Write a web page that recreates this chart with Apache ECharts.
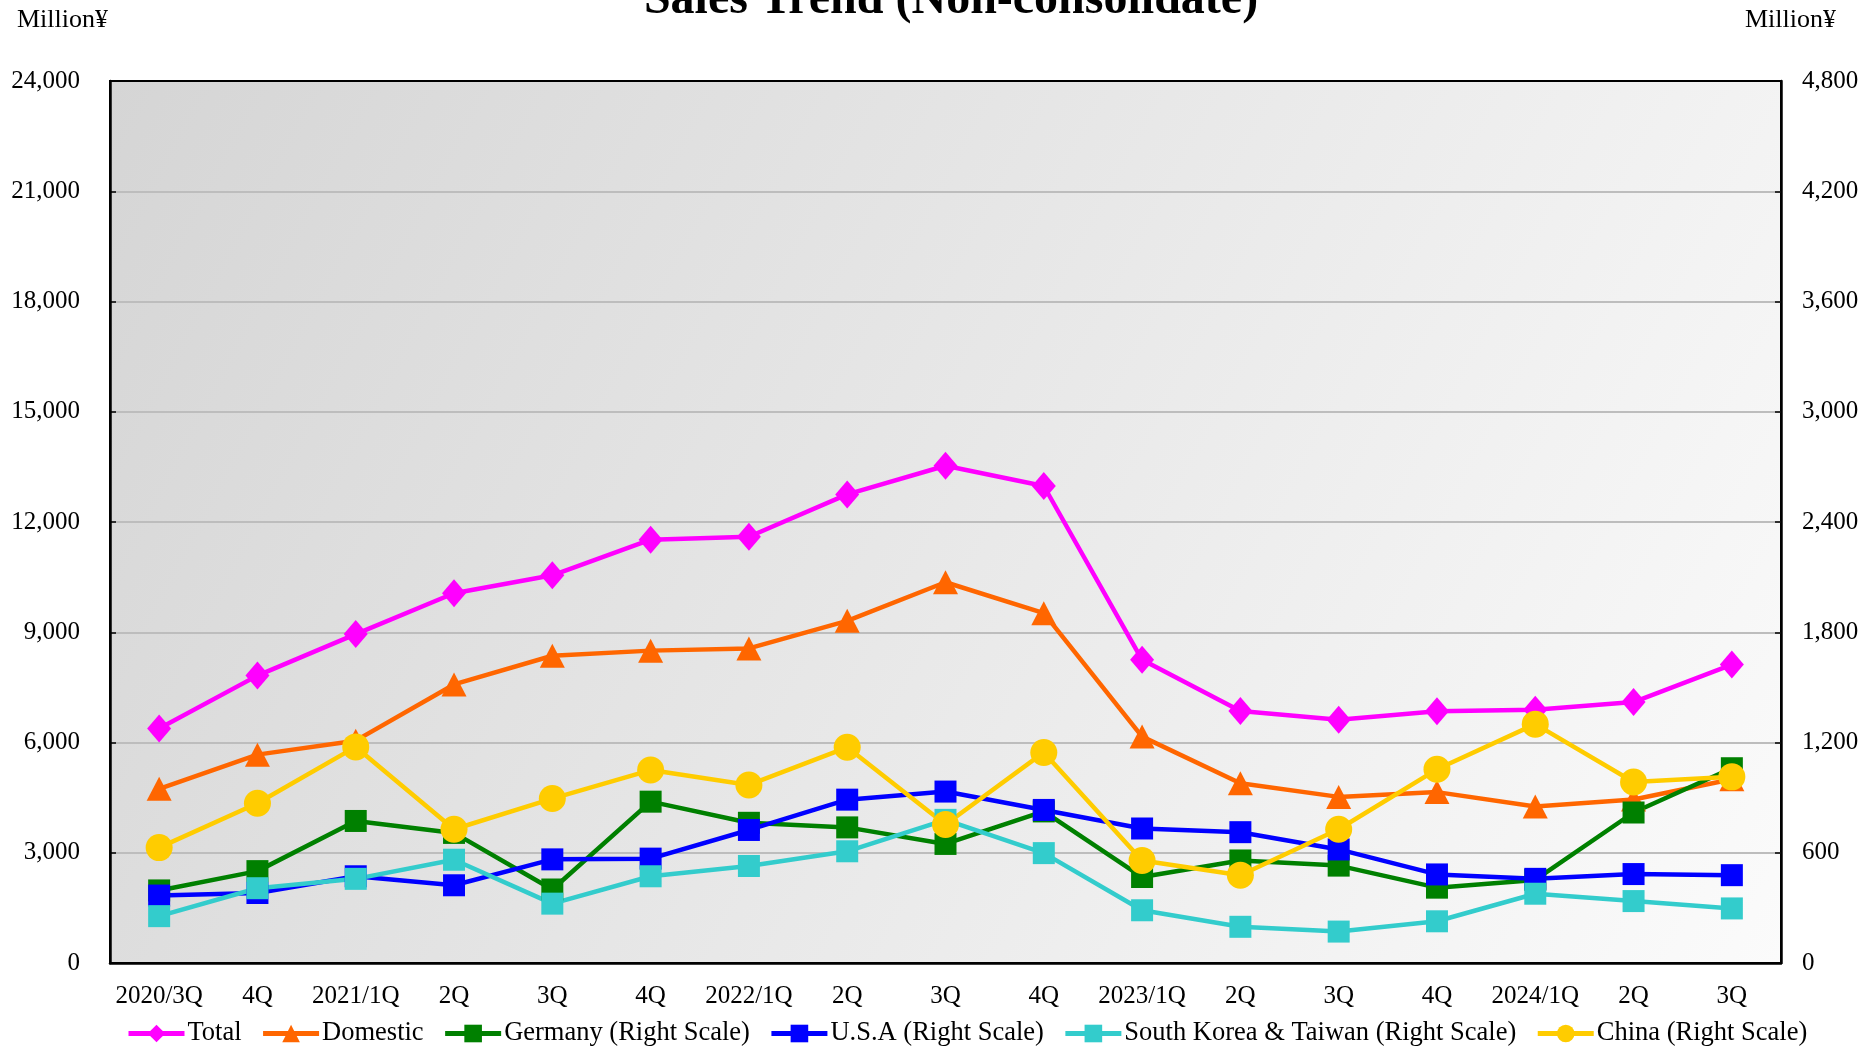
<!DOCTYPE html>
<html>
<head>
<meta charset="utf-8">
<script src="https://cdn.jsdelivr.net/npm/echarts@6/dist/echarts.min.js"></script>
<style>
html,body{margin:0;padding:0;background:#fff;}
#chart{width:1874px;height:1053px;}
</style>
</head>
<body>
<div id="chart"></div>
<script>
var categories = ['2020/3Q','4Q','2021/1Q','2Q','3Q','4Q','2022/1Q','2Q','3Q','4Q','2023/1Q','2Q','3Q','4Q','2024/1Q','2Q','3Q'];
var leftTicks = [0, 3000, 6000, 9000, 12000, 15000, 18000, 21000, 24000];
var rightTicks = [0, 600, 1200, 1800, 2400, 3000, 3600, 4200, 4800];

var total    = [6380, 7820, 8950, 10060, 10550, 11520, 11600, 12750, 13530, 12980, 8250, 6860, 6620, 6850, 6890, 7100, 8120];
var domestic = [4740, 5670, 6050, 7580, 8360, 8500, 8560, 9310, 10360, 9520, 6160, 4890, 4520, 4650, 4260, 4450, 5000];
var germany  = [395, 500, 773, 708, 400, 878, 763, 738, 648, 825, 468, 558, 530, 410, 452, 819, 1060];
var usa      = [367, 381, 472, 423, 564, 568, 724, 889, 933, 833, 732, 712, 618, 482, 458, 484, 478];
var korea    = [255, 407, 458, 562, 323, 472, 528, 608, 779, 598, 287, 197, 171, 227, 377, 337, 297];
var china    = [628, 869, 1176, 728, 895, 1050, 969, 1174, 754, 1146, 558, 478, 728, 1054, 1300, 985, 1013];

var seriesNames = ['Total','Domestic','Germany (Right Scale)','U.S.A (Right Scale)','South Korea & Taiwan (Right Scale)','China (Right Scale)'];

var FONT = '"Liberation Serif", "Times New Roman", serif';

function fmt(v){ return v.toString().replace(/\B(?=(\d{3})+(?!\d))/g, ','); }

function mk(name, data, color, symbol, size, yIdx){
  return {
    name: name, type: 'line', data: data, yAxisIndex: yIdx,
    symbol: symbol, symbolSize: size, showSymbol: true,
    lineStyle: {color: color, width: 4.5},
    itemStyle: {color: color},
    emphasis: {disabled: true}
  };
}

var chart = echarts.init(document.getElementById('chart'), null, {renderer: 'canvas'});
chart.setOption({
  animation: false,
  backgroundColor: '#ffffff',
  textStyle: {fontFamily: FONT},
  title: {
    text: 'Sales Trend (Non-consolidate)',
    left: 946, textAlign: 'center', top: -28,
    textStyle: {fontFamily: FONT, fontWeight: 'bold', fontSize: 48, color: '#000'}
  },
  graphic: [
    {type: 'text', left: 17, top: 7, style: {text: 'Million¥', font: '26px ' + FONT, fill: '#000'}},
    {type: 'text', left: 1745, top: 7, style: {text: 'Million¥', font: '26px ' + FONT, fill: '#000'}}
  ],
  grid: {
    left: 110, right: 93, top: 81, bottom: 90,
    show: true, borderColor: '#000', borderWidth: 2,
    backgroundColor: new echarts.graphic.LinearGradient(0, 0, 1, 1, [
      {offset: 0, color: '#d5d5d5'},
      {offset: 1, color: '#fbfbfb'}
    ])
  },
  legend: {
    left: 126, top: 1020, padding: 0,
    itemWidth: 56, itemHeight: 22, itemGap: 19,
    lineStyle: {width: 5},
    textStyle: {fontFamily: FONT, fontSize: 26.5, color: '#000', padding: [0,0,0,-2]},
    data: seriesNames
  },
  xAxis: {
    type: 'category', data: categories, boundaryGap: true,
    axisLine: {lineStyle: {color: '#000', width: 2.5}},
    axisTick: {inside: true, length: 8, lineStyle: {color: '#000', width: 1.5}},
    axisLabel: {fontFamily: FONT, fontSize: 25, color: '#000', margin: 21, interval: 0}
  },
  yAxis: [
    {
      type: 'value', min: leftTicks[0], max: leftTicks[leftTicks.length-1], interval: 3000,
      axisLine: {show: true, lineStyle: {color: '#000', width: 2.5}},
      axisTick: {show: true, inside: true, length: 6, lineStyle: {color: '#000', width: 1.5}},
      axisLabel: {fontFamily: FONT, fontSize: 25, color: '#000', margin: 30, formatter: fmt},
      splitLine: {show: true, showMinLine: false, showMaxLine: false, lineStyle: {color: '#bdbdbd', width: 2}}
    },
    {
      type: 'value', min: rightTicks[0], max: rightTicks[rightTicks.length-1], interval: 600,
      position: 'right',
      axisLine: {show: true, lineStyle: {color: '#000', width: 2.5}},
      axisTick: {show: true, inside: true, length: 6, lineStyle: {color: '#000', width: 1.5}},
      axisLabel: {fontFamily: FONT, fontSize: 25, color: '#000', margin: 21, formatter: fmt},
      splitLine: {show: false}
    }
  ],
  series: [
    mk(seriesNames[0], total, '#ff00ff', 'diamond', [24, 28], 0),
    mk(seriesNames[1], domestic, '#ff6600', 'triangle', [25, 24], 0),
    mk(seriesNames[2], germany, '#008000', 'rect', 22, 1),
    mk(seriesNames[3], usa, '#0000ff', 'rect', 22, 1),
    mk(seriesNames[4], korea, '#33cccc', 'rect', 22, 1),
    mk(seriesNames[5], china, '#ffcc00', 'circle', 27, 1)
  ]
});
</script>
</body>
</html>
